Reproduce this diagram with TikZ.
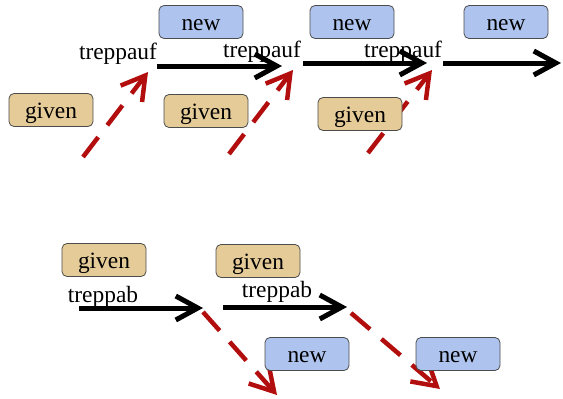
\documentclass[tikz,border=0pt]{standalone}
\usepackage{fontspec}
\setmainfont{Liberation Serif}
\usetikzlibrary{arrows.meta}

\definecolor{givenfill}{RGB}{229,203,152}
\definecolor{newfill}{RGB}{174,196,238}
\definecolor{stepred}{RGB}{178,14,14}

\begin{document}
\begin{tikzpicture}[
  x=1pt, y=-1pt,
  line join=round,
  box/.style={draw=black!70, line width=0.8pt, rounded corners=5pt,
    minimum width=84pt, minimum height=33pt, inner sep=0pt,
    text height=16pt, text depth=0pt,
    font=\fontsize{23.4}{26}\selectfont},
  givenbox/.style={box, fill=givenfill},
  newbox/.style={box, fill=newfill},
  steplabel/.style={anchor=base, inner sep=0pt, font=\fontsize{23.4}{26}\selectfont},
  flow/.style={line width=5pt, -{Straight Barb[length=22pt,width=24pt]}},
  jump/.style={line width=4.5pt, stepred, dash pattern=on 25pt off 15pt,
    -{Straight Barb[length=23pt,width=27pt]}}
]

\useasboundingbox (0,0) rectangle (563,399);

% end points of the connectors
\coordinate (up1s) at (157,66);  \coordinate (up1e) at (282,66);
\coordinate (up2s) at (303,63);  \coordinate (up2e) at (427,63);
\coordinate (up3s) at (443,63);  \coordinate (up3e) at (561,63);
\coordinate (jmp1s) at (83,157);  \coordinate (jmp1e) at (148,72);
\coordinate (jmp2s) at (229,154); \coordinate (jmp2e) at (293,70);
\coordinate (jmp3s) at (368,153); \coordinate (jmp3e) at (432,70);
\coordinate (dn1s) at (79,308);  \coordinate (dn1e) at (203,308);
\coordinate (dn2s) at (223,307); \coordinate (dn2e) at (347,307);
\coordinate (fall1s) at (203,312); \coordinate (fall1e) at (277,395);
\coordinate (fall2s) at (351,313); \coordinate (fall2e) at (440,389);

% red jumps go behind the boxes
\foreach \i in {1,2,3}
  \draw [jump] (jmp\i s) -- (jmp\i e);
\foreach \i in {1,2}
  \draw [jump] (fall\i s) -- (fall\i e);

% treppauf
\node [newbox] (new1) at (201,22) {new};
\node [newbox] (new2) at (352,22) {new};
\node [newbox] (new3) at (506,22) {new};
\node [givenbox] (given1) at (51,110) {given};
\node [givenbox] (given2) at (206,111) {given};
\node [givenbox] (given3) at (360,114) {given};

% treppab
\node [givenbox] (given4) at (104,260) {given};
\node [givenbox] (given5) at (258,261) {given};
\node [newbox] (new4) at (307,354) {new};
\node [newbox] (new5) at (458,354) {new};

\node [steplabel] (auf1) at (118,59) {treppauf};
\node [steplabel] (auf2) at (262,57) {treppauf};
\node [steplabel] (auf3) at (403,57) {treppauf};
\node [steplabel] (ab1) at (103,302) {treppab};
\node [steplabel] (ab2) at (277,297) {treppab};

\foreach \i in {1,2,3}
  \draw [flow] (up\i s) -- (up\i e);
\foreach \i in {1,2}
  \draw [flow] (dn\i s) -- (dn\i e);

\end{tikzpicture}
\end{document}
